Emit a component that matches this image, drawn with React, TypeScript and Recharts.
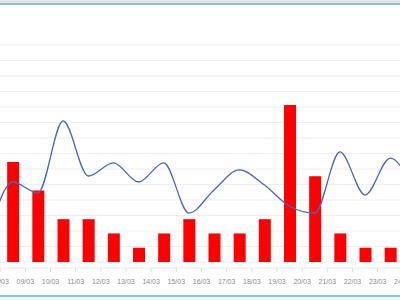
import { ComposedChart, Bar, Line, XAxis, YAxis, CartesianGrid } from "recharts";

const days = [
  "07/03", "08/03", "09/03", "10/03", "11/03", "12/03", "13/03", "14/03", "15/03",
  "16/03", "17/03", "18/03", "19/03", "20/03", "21/03", "22/03", "23/03", "24/03",
];
const counts = [4, 7, 5, 3, 3, 2, 1, 2, 3, 2, 2, 3, 11, 6, 2, 1, 1, 2];
const rate = [1.4, 5.16, 4.45, 9.1, 5.55, 6.4, 5.16, 6.4, 3.16, 4.65, 5.94, 4.97, 3.6, 3.16, 7.1, 4.32, 6.7, 4.3];
const rateTicks = [0, 1, 2, 3, 4, 5, 6, 7, 8, 9, 10, 11, 12, 13, 14];

const data = days.map((day, i) => ({ day, count: counts[i], rate: rate[i] }));

const CHART_W = 453;
const HALF_BAND = CHART_W / days.length / 2;

const DayTick = (props: any) => {
  const { x, y, payload } = props;
  const bx = x - HALF_BAND;
  return (
    <g>
      <line x1={bx} x2={bx + 2 * HALF_BAND} y1={y + 6} y2={y + 6} stroke="#e8e8e8" />
      <line x1={bx} x2={bx} y1={y + 6} y2={y + 10} stroke="#dcdcdc" />
      <text
        x={bx}
        y={y + 22}
        textAnchor="middle"
        fontSize={7}
        fill="#8c8c8c"
        fontFamily="Liberation Sans, Arial, sans-serif"
      >
        {payload.value}
      </text>
    </g>
  );
};

export default function App() {
  return (
    <div
      style={{
        position: "fixed",
        left: 0,
        top: 0,
        width: 400,
        height: 300,
        overflow: "hidden",
        background: "#fff",
      }}
    >
      <div style={{ position: "absolute", left: 0, top: 0, width: 400, height: 3, background: "#e6e6e6" }} />
      <div style={{ position: "absolute", left: 0, top: 3, width: 400, height: 1.5, background: "#84cdc5" }} />
      <div style={{ position: "absolute", left: 0, top: 295, width: 400, height: 1.5, background: "#84cdc5" }} />
      <div style={{ position: "absolute", left: -25.5, top: 0 }}>
        <ComposedChart
          width={CHART_W}
          height={300}
          data={data}
          margin={{ top: 45, right: 0, bottom: 8, left: 0 }}
        >
          <CartesianGrid yAxisId="rate" vertical={false} stroke="#eeeeee" />
          <XAxis
            dataKey="day"
            interval={0}
            axisLine={false}
            tickLine={false}
            tickSize={0}
            tickMargin={0}
            height={30}
            tick={<DayTick />}
          />
          <YAxis yAxisId="count" domain={[0, 15.2]} hide />
          <YAxis yAxisId="rate" domain={[0, 14]} ticks={rateTicks} interval={0} hide />
          <Bar yAxisId="count" dataKey="count" fill="#ff0000" barSize={12} isAnimationActive={false} />
          <Line
            yAxisId="rate"
            type="monotone"
            dataKey="rate"
            stroke="#4a66b8"
            strokeWidth={1.3}
            dot={false}
            isAnimationActive={false}
          />
        </ComposedChart>
      </div>
    </div>
  );
}
